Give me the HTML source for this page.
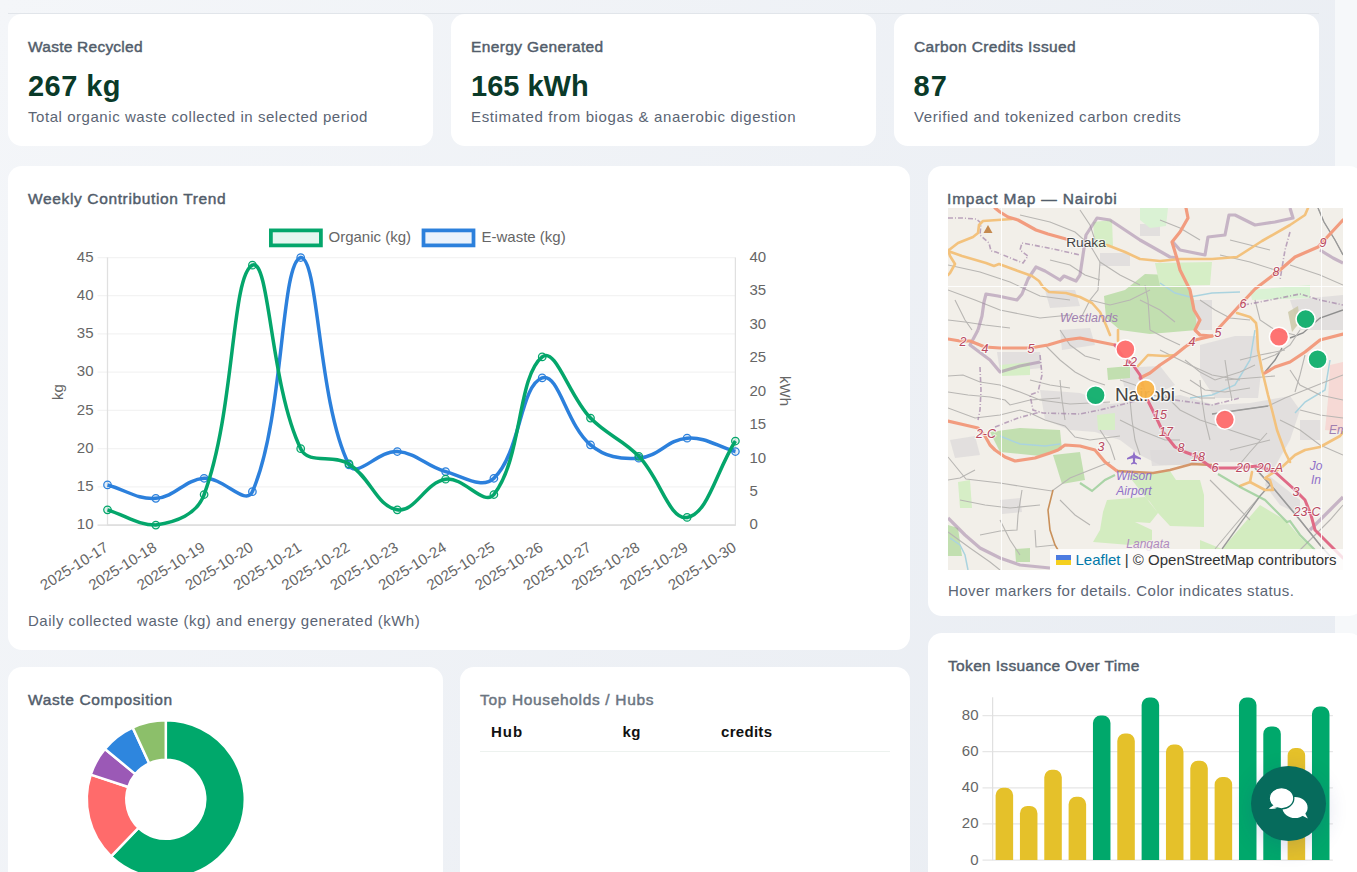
<!DOCTYPE html><html><head><meta charset="utf-8"><style>

html,body{margin:0;padding:0;}
html{background:#f6f8fa;}
body{width:1357px;height:872px;overflow:hidden;position:relative;font-family:"Liberation Sans",sans-serif;}
#bg{position:absolute;left:0;top:0;width:1335px;height:872px;background:linear-gradient(120deg,#f4f6f9 0%,#e8ecf2 100%);}
#hline{position:absolute;left:8px;top:13px;width:1311px;height:1px;background:#e1e5ea;}
.card{position:absolute;background:#fff;border-radius:14px;overflow:hidden;}
.t{position:absolute;left:20px;top:25px;font-size:15.5px;line-height:15px;font-weight:normal;-webkit-text-stroke-width:0.45px;color:#525d6b;white-space:nowrap;letter-spacing:0.1px;}
.big{position:absolute;left:20px;top:58px;font-size:29px;line-height:29px;font-weight:bold;color:#0a3a29;white-space:nowrap;}
.sub{position:absolute;left:20px;top:95px;font-size:15px;line-height:15px;color:#5b6574;white-space:nowrap;letter-spacing:0.6px;}
svg{font-family:"Liberation Sans",sans-serif;}
#fab{position:absolute;left:1251px;top:766px;width:75px;height:75px;border-radius:50%;background:#066b5c;box-shadow:0 6px 22px rgba(40,50,140,0.18);}

</style></head><body>

<div id="bg"></div>
<div id="hline"></div>
<div class="card" style="left:8px;top:14px;width:425px;height:132px;">
  <div class="t" style="letter-spacing:0.24px">Waste Recycled</div>
  <div class="big" style="letter-spacing:0.45px">267 kg</div>
  <div class="sub" style="letter-spacing:0.55px">Total organic waste collected in selected period</div>
</div>
<div class="card" style="left:451px;top:14px;width:425px;height:132px;">
  <div class="t" style="letter-spacing:0.37px">Energy Generated</div>
  <div class="big">165 kWh</div>
  <div class="sub" style="letter-spacing:0.64px">Estimated from biogas &amp; anaerobic digestion</div>
</div>
<div class="card" style="left:894px;top:14px;width:425px;height:132px;">
  <div class="t" style="letter-spacing:0.37px">Carbon Credits Issued</div>
  <div class="big" style="left:19.5px;letter-spacing:1.2px">87</div>
  <div class="sub" style="letter-spacing:0.58px">Verified and tokenized carbon credits</div>
</div>
<div class="card" id="trend" style="left:8px;top:166px;width:902px;height:484px;">
  <div class="t" style="letter-spacing:0.64px">Weekly Contribution Trend</div>
  <div class="sub" style="top:447px;letter-spacing:0.51px;">Daily collected waste (kg) and energy generated (kWh)</div>
</div>
<div class="card" id="map" style="left:928px;top:166px;width:435px;height:450px;">
  <div class="t" style="left:19px;letter-spacing:0.82px;">Impact Map — Nairobi</div>
  <div class="sub" style="top:417px;letter-spacing:0.46px;">Hover markers for details. Color indicates status.</div>
</div>
<div class="card" id="comp" style="left:8px;top:667px;width:435px;height:260px;">
  <div class="t" style="letter-spacing:0.64px">Waste Composition</div>
</div>
<div class="card" id="hubs" style="left:460px;top:667px;width:450px;height:260px;">
  <div class="t" style="color:#6b7581;letter-spacing:0.66px;">Top Households / Hubs</div>
</div>
<div class="card" id="token" style="left:928px;top:633px;width:435px;height:300px;">
  <div class="t" style="letter-spacing:0.34px">Token Issuance Over Time</div>
</div>

<svg width="1357" height="872" style="position:absolute;left:0;top:0">
<line x1="97.5" y1="525.10" x2="735.40" y2="525.10" stroke="#dcdcdc" stroke-width="1.25"/>
<text x="93.5" y="523.70" font-size="15" fill="#666" text-anchor="end" dominant-baseline="central">10</text>
<line x1="97.5" y1="486.87" x2="735.40" y2="486.87" stroke="#f3f3f3" stroke-width="1.25"/>
<text x="93.5" y="485.47" font-size="15" fill="#666" text-anchor="end" dominant-baseline="central">15</text>
<line x1="97.5" y1="448.64" x2="735.40" y2="448.64" stroke="#f3f3f3" stroke-width="1.25"/>
<text x="93.5" y="447.24" font-size="15" fill="#666" text-anchor="end" dominant-baseline="central">20</text>
<line x1="97.5" y1="410.41" x2="735.40" y2="410.41" stroke="#f3f3f3" stroke-width="1.25"/>
<text x="93.5" y="409.01" font-size="15" fill="#666" text-anchor="end" dominant-baseline="central">25</text>
<line x1="97.5" y1="372.19" x2="735.40" y2="372.19" stroke="#f3f3f3" stroke-width="1.25"/>
<text x="93.5" y="370.79" font-size="15" fill="#666" text-anchor="end" dominant-baseline="central">30</text>
<line x1="97.5" y1="333.96" x2="735.40" y2="333.96" stroke="#f3f3f3" stroke-width="1.25"/>
<text x="93.5" y="332.56" font-size="15" fill="#666" text-anchor="end" dominant-baseline="central">35</text>
<line x1="97.5" y1="295.73" x2="735.40" y2="295.73" stroke="#f3f3f3" stroke-width="1.25"/>
<text x="93.5" y="294.33" font-size="15" fill="#666" text-anchor="end" dominant-baseline="central">40</text>
<line x1="97.5" y1="257.50" x2="735.40" y2="257.50" stroke="#f3f3f3" stroke-width="1.25"/>
<text x="93.5" y="256.10" font-size="15" fill="#666" text-anchor="end" dominant-baseline="central">45</text>
<text x="749.5" y="523.90" font-size="15" fill="#666" dominant-baseline="central">0</text>
<text x="749.5" y="490.45" font-size="15" fill="#666" dominant-baseline="central">5</text>
<text x="749.5" y="457.00" font-size="15" fill="#666" dominant-baseline="central">10</text>
<text x="749.5" y="423.55" font-size="15" fill="#666" dominant-baseline="central">15</text>
<text x="749.5" y="390.10" font-size="15" fill="#666" dominant-baseline="central">20</text>
<text x="749.5" y="356.65" font-size="15" fill="#666" dominant-baseline="central">25</text>
<text x="749.5" y="323.20" font-size="15" fill="#666" dominant-baseline="central">30</text>
<text x="749.5" y="289.75" font-size="15" fill="#666" dominant-baseline="central">35</text>
<text x="749.5" y="256.30" font-size="15" fill="#666" dominant-baseline="central">40</text>
<line x1="107.50" y1="257.50" x2="107.50" y2="525.70" stroke="#e0e0e0" stroke-width="1.25"/>
<line x1="735.40" y1="257.50" x2="735.40" y2="525.70" stroke="#e0e0e0" stroke-width="1.25"/>
<line x1="107.50" y1="525.10" x2="735.40" y2="525.10" stroke="#dcdcdc" stroke-width="1.25"/>
<text transform="translate(63,392) rotate(-90)" font-size="15" fill="#666" text-anchor="middle">kg</text>
<text transform="translate(780,391) rotate(90)" font-size="15" fill="#666" text-anchor="middle">kWh</text>
<text transform="translate(106.50,545.50) rotate(-32)" font-size="15" fill="#666" text-anchor="end" dominant-baseline="central">2025-10-17</text>
<text transform="translate(154.80,545.50) rotate(-32)" font-size="15" fill="#666" text-anchor="end" dominant-baseline="central">2025-10-18</text>
<text transform="translate(203.10,545.50) rotate(-32)" font-size="15" fill="#666" text-anchor="end" dominant-baseline="central">2025-10-19</text>
<text transform="translate(251.40,545.50) rotate(-32)" font-size="15" fill="#666" text-anchor="end" dominant-baseline="central">2025-10-20</text>
<text transform="translate(299.70,545.50) rotate(-32)" font-size="15" fill="#666" text-anchor="end" dominant-baseline="central">2025-10-21</text>
<text transform="translate(348.00,545.50) rotate(-32)" font-size="15" fill="#666" text-anchor="end" dominant-baseline="central">2025-10-22</text>
<text transform="translate(396.30,545.50) rotate(-32)" font-size="15" fill="#666" text-anchor="end" dominant-baseline="central">2025-10-23</text>
<text transform="translate(444.60,545.50) rotate(-32)" font-size="15" fill="#666" text-anchor="end" dominant-baseline="central">2025-10-24</text>
<text transform="translate(492.90,545.50) rotate(-32)" font-size="15" fill="#666" text-anchor="end" dominant-baseline="central">2025-10-25</text>
<text transform="translate(541.20,545.50) rotate(-32)" font-size="15" fill="#666" text-anchor="end" dominant-baseline="central">2025-10-26</text>
<text transform="translate(589.50,545.50) rotate(-32)" font-size="15" fill="#666" text-anchor="end" dominant-baseline="central">2025-10-27</text>
<text transform="translate(637.80,545.50) rotate(-32)" font-size="15" fill="#666" text-anchor="end" dominant-baseline="central">2025-10-28</text>
<text transform="translate(686.10,545.50) rotate(-32)" font-size="15" fill="#666" text-anchor="end" dominant-baseline="central">2025-10-29</text>
<text transform="translate(734.40,545.50) rotate(-32)" font-size="15" fill="#666" text-anchor="end" dominant-baseline="central">2025-10-30</text>
<path d="M107.50,484.96 C126.82,490.31 136.89,499.65 155.80,498.34 C175.53,496.97 184.37,479.64 204.10,478.27 C223.01,476.96 245.70,506.95 252.40,491.65 C284.34,418.65 280.26,263.16 300.70,257.50 C318.90,257.50 317.72,402.07 349.00,464.89 C356.36,479.68 378.39,450.20 397.30,451.51 C417.03,452.88 425.60,466.04 445.60,471.58 C464.24,476.74 482.13,489.68 493.90,478.27 C520.77,452.21 520.00,385.61 542.20,377.92 C558.64,372.23 566.46,424.84 590.50,444.82 C605.10,456.95 619.89,459.51 638.80,458.20 C658.53,456.83 667.37,439.50 687.10,438.13 C706.01,436.82 716.08,446.16 735.40,451.51" fill="none" stroke="#2c80dc" stroke-width="3.5" stroke-linejoin="round"/>
<circle cx="107.50" cy="484.96" r="3.75" fill="rgba(44,128,220,0.12)" stroke="#2c80dc" stroke-width="1.25"/>
<circle cx="155.80" cy="498.34" r="3.75" fill="rgba(44,128,220,0.12)" stroke="#2c80dc" stroke-width="1.25"/>
<circle cx="204.10" cy="478.27" r="3.75" fill="rgba(44,128,220,0.12)" stroke="#2c80dc" stroke-width="1.25"/>
<circle cx="252.40" cy="491.65" r="3.75" fill="rgba(44,128,220,0.12)" stroke="#2c80dc" stroke-width="1.25"/>
<circle cx="300.70" cy="257.50" r="3.75" fill="rgba(44,128,220,0.12)" stroke="#2c80dc" stroke-width="1.25"/>
<circle cx="349.00" cy="464.89" r="3.75" fill="rgba(44,128,220,0.12)" stroke="#2c80dc" stroke-width="1.25"/>
<circle cx="397.30" cy="451.51" r="3.75" fill="rgba(44,128,220,0.12)" stroke="#2c80dc" stroke-width="1.25"/>
<circle cx="445.60" cy="471.58" r="3.75" fill="rgba(44,128,220,0.12)" stroke="#2c80dc" stroke-width="1.25"/>
<circle cx="493.90" cy="478.27" r="3.75" fill="rgba(44,128,220,0.12)" stroke="#2c80dc" stroke-width="1.25"/>
<circle cx="542.20" cy="377.92" r="3.75" fill="rgba(44,128,220,0.12)" stroke="#2c80dc" stroke-width="1.25"/>
<circle cx="590.50" cy="444.82" r="3.75" fill="rgba(44,128,220,0.12)" stroke="#2c80dc" stroke-width="1.25"/>
<circle cx="638.80" cy="458.20" r="3.75" fill="rgba(44,128,220,0.12)" stroke="#2c80dc" stroke-width="1.25"/>
<circle cx="687.10" cy="438.13" r="3.75" fill="rgba(44,128,220,0.12)" stroke="#2c80dc" stroke-width="1.25"/>
<circle cx="735.40" cy="451.51" r="3.75" fill="rgba(44,128,220,0.12)" stroke="#2c80dc" stroke-width="1.25"/>
<path d="M107.50,509.81 C126.82,515.93 137.65,525.10 155.80,525.10 C176.29,521.86 196.52,514.90 204.10,494.52 C235.16,410.92 231.05,275.29 252.40,265.15 C269.69,257.50 270.20,385.88 300.70,448.64 C308.84,465.40 332.31,453.36 349.00,463.93 C370.95,477.83 376.51,506.52 397.30,509.81 C415.15,512.63 425.11,482.47 445.60,479.23 C463.75,476.35 483.94,507.13 493.90,494.52 C522.58,458.20 517.02,376.83 542.20,356.89 C555.66,346.24 568.92,395.85 590.50,418.06 C607.56,435.61 621.74,438.74 638.80,456.29 C660.38,478.50 669.21,520.29 687.10,517.45 C707.85,514.17 716.08,471.58 735.40,441.00" fill="none" stroke="#04a66b" stroke-width="3.5" stroke-linejoin="round"/>
<circle cx="107.50" cy="509.81" r="3.75" fill="rgba(4,166,107,0.12)" stroke="#04a66b" stroke-width="1.25"/>
<circle cx="155.80" cy="525.10" r="3.75" fill="rgba(4,166,107,0.12)" stroke="#04a66b" stroke-width="1.25"/>
<circle cx="204.10" cy="494.52" r="3.75" fill="rgba(4,166,107,0.12)" stroke="#04a66b" stroke-width="1.25"/>
<circle cx="252.40" cy="265.15" r="3.75" fill="rgba(4,166,107,0.12)" stroke="#04a66b" stroke-width="1.25"/>
<circle cx="300.70" cy="448.64" r="3.75" fill="rgba(4,166,107,0.12)" stroke="#04a66b" stroke-width="1.25"/>
<circle cx="349.00" cy="463.93" r="3.75" fill="rgba(4,166,107,0.12)" stroke="#04a66b" stroke-width="1.25"/>
<circle cx="397.30" cy="509.81" r="3.75" fill="rgba(4,166,107,0.12)" stroke="#04a66b" stroke-width="1.25"/>
<circle cx="445.60" cy="479.23" r="3.75" fill="rgba(4,166,107,0.12)" stroke="#04a66b" stroke-width="1.25"/>
<circle cx="493.90" cy="494.52" r="3.75" fill="rgba(4,166,107,0.12)" stroke="#04a66b" stroke-width="1.25"/>
<circle cx="542.20" cy="356.89" r="3.75" fill="rgba(4,166,107,0.12)" stroke="#04a66b" stroke-width="1.25"/>
<circle cx="590.50" cy="418.06" r="3.75" fill="rgba(4,166,107,0.12)" stroke="#04a66b" stroke-width="1.25"/>
<circle cx="638.80" cy="456.29" r="3.75" fill="rgba(4,166,107,0.12)" stroke="#04a66b" stroke-width="1.25"/>
<circle cx="687.10" cy="517.45" r="3.75" fill="rgba(4,166,107,0.12)" stroke="#04a66b" stroke-width="1.25"/>
<circle cx="735.40" cy="441.00" r="3.75" fill="rgba(4,166,107,0.12)" stroke="#04a66b" stroke-width="1.25"/>
<rect x="270.9" y="230.4" width="50" height="15" fill="#e6f6f0" stroke="#04a66b" stroke-width="3.75"/>
<text x="328.5" y="236.5" font-size="15" fill="#666" dominant-baseline="central">Organic (kg)</text>
<rect x="423.5" y="230.4" width="50" height="15" fill="#eaf2fc" stroke="#2c80dc" stroke-width="3.75"/>
<text x="481.5" y="236.5" font-size="15" fill="#666" dominant-baseline="central">E-waste (kg)</text>
</svg>
<svg width="1357" height="872" style="position:absolute;left:0;top:0">
<path d="M165.80,720.30 A79.00,79.00 0 1 1 111.12,856.32 L138.46,827.81 A39.50,39.50 0 1 0 165.80,759.80 Z" fill="#00a86b" stroke="#fff" stroke-width="2.5" stroke-linejoin="round"/>
<path d="M111.12,856.32 A79.00,79.00 0 0 1 90.75,774.63 L128.28,786.96 A39.50,39.50 0 0 0 138.46,827.81 Z" fill="#ff6b6b" stroke="#fff" stroke-width="2.5" stroke-linejoin="round"/>
<path d="M90.75,774.63 A79.00,79.00 0 0 1 104.93,748.94 L135.36,774.12 A39.50,39.50 0 0 0 128.28,786.96 Z" fill="#9b59b6" stroke="#fff" stroke-width="2.5" stroke-linejoin="round"/>
<path d="M104.93,748.94 A79.00,79.00 0 0 1 132.66,727.59 L149.23,763.44 A39.50,39.50 0 0 0 135.36,774.12 Z" fill="#2e86de" stroke="#fff" stroke-width="2.5" stroke-linejoin="round"/>
<path d="M132.66,727.59 A79.00,79.00 0 0 1 165.80,720.30 L165.80,759.80 A39.50,39.50 0 0 0 149.23,763.44 Z" fill="#8cbf6a" stroke="#fff" stroke-width="2.5" stroke-linejoin="round"/>
</svg>
<svg width="1357" height="872" style="position:absolute;left:0;top:0">
<line x1="982.5" y1="860.10" x2="1332.90" y2="860.10" stroke="#e6e6e6" stroke-width="1.25"/>
<text x="978.5" y="859.10" font-size="15" fill="#666" text-anchor="end" dominant-baseline="central">0</text>
<line x1="982.5" y1="823.96" x2="1332.90" y2="823.96" stroke="#e6e6e6" stroke-width="1.25"/>
<text x="978.5" y="822.96" font-size="15" fill="#666" text-anchor="end" dominant-baseline="central">20</text>
<line x1="982.5" y1="787.82" x2="1332.90" y2="787.82" stroke="#e6e6e6" stroke-width="1.25"/>
<text x="978.5" y="786.82" font-size="15" fill="#666" text-anchor="end" dominant-baseline="central">40</text>
<line x1="982.5" y1="751.68" x2="1332.90" y2="751.68" stroke="#e6e6e6" stroke-width="1.25"/>
<text x="978.5" y="750.68" font-size="15" fill="#666" text-anchor="end" dominant-baseline="central">60</text>
<line x1="982.5" y1="715.54" x2="1332.90" y2="715.54" stroke="#e6e6e6" stroke-width="1.25"/>
<text x="978.5" y="714.54" font-size="15" fill="#666" text-anchor="end" dominant-baseline="central">80</text>
<line x1="992.60" y1="697.3" x2="992.60" y2="860.10" stroke="#e0e0e0" stroke-width="1.25"/>
<path d="M995.61,860.10 L995.61,795.32 A7.50,7.50 0 0 1 1003.11,787.82 L1005.63,787.82 A7.50,7.50 0 0 1 1013.13,795.32 L1013.13,860.10 Z" fill="#e5c12a"/>
<path d="M1019.94,860.10 L1019.94,813.39 A7.50,7.50 0 0 1 1027.44,805.89 L1029.96,805.89 A7.50,7.50 0 0 1 1037.46,813.39 L1037.46,860.10 Z" fill="#e5c12a"/>
<path d="M1044.28,860.10 L1044.28,777.25 A7.50,7.50 0 0 1 1051.78,769.75 L1054.30,769.75 A7.50,7.50 0 0 1 1061.80,777.25 L1061.80,860.10 Z" fill="#e5c12a"/>
<path d="M1068.61,860.10 L1068.61,804.36 A7.50,7.50 0 0 1 1076.11,796.86 L1078.64,796.86 A7.50,7.50 0 0 1 1086.14,804.36 L1086.14,860.10 Z" fill="#e5c12a"/>
<path d="M1092.95,860.10 L1092.95,723.04 A7.50,7.50 0 0 1 1100.45,715.54 L1102.97,715.54 A7.50,7.50 0 0 1 1110.47,723.04 L1110.47,860.10 Z" fill="#00a86b"/>
<path d="M1117.29,860.10 L1117.29,741.11 A7.50,7.50 0 0 1 1124.79,733.61 L1127.31,733.61 A7.50,7.50 0 0 1 1134.81,741.11 L1134.81,860.10 Z" fill="#e5c12a"/>
<path d="M1141.62,860.10 L1141.62,704.97 A7.50,7.50 0 0 1 1149.12,697.47 L1151.64,697.47 A7.50,7.50 0 0 1 1159.14,704.97 L1159.14,860.10 Z" fill="#00a86b"/>
<path d="M1165.96,860.10 L1165.96,751.95 A7.50,7.50 0 0 1 1173.46,744.45 L1175.98,744.45 A7.50,7.50 0 0 1 1183.48,751.95 L1183.48,860.10 Z" fill="#e5c12a"/>
<path d="M1190.29,860.10 L1190.29,768.22 A7.50,7.50 0 0 1 1197.79,760.72 L1200.31,760.72 A7.50,7.50 0 0 1 1207.81,768.22 L1207.81,860.10 Z" fill="#e5c12a"/>
<path d="M1214.63,860.10 L1214.63,784.48 A7.50,7.50 0 0 1 1222.13,776.98 L1224.65,776.98 A7.50,7.50 0 0 1 1232.15,784.48 L1232.15,860.10 Z" fill="#e5c12a"/>
<path d="M1238.96,860.10 L1238.96,704.97 A7.50,7.50 0 0 1 1246.46,697.47 L1248.99,697.47 A7.50,7.50 0 0 1 1256.49,704.97 L1256.49,860.10 Z" fill="#00a86b"/>
<path d="M1263.30,860.10 L1263.30,733.88 A7.50,7.50 0 0 1 1270.80,726.38 L1273.32,726.38 A7.50,7.50 0 0 1 1280.82,733.88 L1280.82,860.10 Z" fill="#00a86b"/>
<path d="M1287.64,860.10 L1287.64,755.57 A7.50,7.50 0 0 1 1295.14,748.07 L1297.66,748.07 A7.50,7.50 0 0 1 1305.16,755.57 L1305.16,860.10 Z" fill="#e5c12a"/>
<path d="M1311.97,860.10 L1311.97,714.00 A7.50,7.50 0 0 1 1319.47,706.50 L1321.99,706.50 A7.50,7.50 0 0 1 1329.49,714.00 L1329.49,860.10 Z" fill="#00a86b"/>
</svg>
<svg width="395" height="362" viewBox="948 208 395 362" style="position:absolute;left:948px;top:208px">
<rect x="948" y="208" width="395" height="362" fill="#f2efe9"/>
<polygon points="1040,390 1080,393 1110,404 1150,400 1180,395 1215,405 1250,403 1290,396 1300,410 1290,440 1270,475 1250,462 1215,462 1190,465 1160,465 1140,455 1120,440 1095,432 1070,430 1045,420" fill="#dcdada" opacity="0.75"/>
<polygon points="997,352 1040,352 1042,368 1000,372" fill="#dcdada" opacity="0.75"/>
<polygon points="1100,253 1130,253 1130,266 1100,266" fill="#dcdada" opacity="0.75"/>
<polygon points="1140,224 1160,224 1160,236 1140,236" fill="#dcdada" opacity="0.75"/>
<polygon points="1045,290 1075,290 1080,306 1050,308" fill="#dcdada" opacity="0.75"/>
<polygon points="1290,300 1343,295 1343,330 1300,330" fill="#dcdada" opacity="0.75"/>
<polygon points="1268,475 1300,500 1300,515 1280,505 1265,485" fill="#dcdada" opacity="0.75"/>
<polygon points="1300,420 1320,420 1320,440 1300,440" fill="#dcdada" opacity="0.75"/>
<polygon points="1150,450 1200,450 1200,464 1152,466" fill="#dcdada" opacity="0.75"/>
<polygon points="1180,300 1212,300 1212,330 1180,330" fill="#dcdada" opacity="0.75"/>
<polygon points="1200,345 1235,336 1257,336 1262,365 1258,398 1215,398 1200,375" fill="#dcdada" opacity="0.75"/>
<polygon points="1120,368 1160,366 1175,385 1160,392 1125,390" fill="#dcdada" opacity="0.75"/>
<polygon points="1060,330 1090,328 1095,345 1062,350" fill="#dcdada" opacity="0.75"/>
<polygon points="1125,300 1150,300 1150,318 1128,318" fill="#dcdada" opacity="0.75"/>
<polygon points="950,440 975,436 980,455 955,458" fill="#dcdada" opacity="0.75"/>
<polygon points="1000,500 1020,498 1022,512 1002,514" fill="#dcdada" opacity="0.75"/>
<polygon points="1288,312 1298,306 1300,322 1292,332" fill="#c9c6a4" opacity="0.8"/>
<path d="M1290,338 L1303,333 L1320,318 L1343,310" fill="none" stroke="#8e8e8e" stroke-width="1.4"/>
<path d="M1282,348 L1275,360 L1265,372" fill="none" stroke="#8e8e8e" stroke-width="1.4"/>
<polygon points="1330,365 1343,362 1343,432 1325,430 1328,400" fill="#f6d3cf" opacity="0.8"/>
<polygon points="1104,296 1125,290 1145,274 1170,275 1188,282 1194,300 1197,330 1150,334 1120,330 1106,318" fill="#c2dfb0"/>
<polygon points="1140,208 1168,208 1166,226 1150,228 1140,220" fill="#daf2d4"/>
<polygon points="1093,222 1112,220 1113,247 1095,248" fill="#d6eec6"/>
<polygon points="1155,263 1212,262 1210,285 1160,286" fill="#d6eec6"/>
<polygon points="1250,290 1310,285 1310,298 1252,300" fill="#daf2d4"/>
<polygon points="1000,365 1030,362 1030,375 1002,376" fill="#d6eec6"/>
<polygon points="990,432 1020,428 1060,430 1062,450 1040,456 1000,452" fill="#c2dfb0"/>
<polygon points="1107,368 1130,366 1130,378 1108,380" fill="#c2dfb0"/>
<polygon points="1097,415 1115,413 1115,430 1098,430" fill="#d6eec6"/>
<polygon points="1053,455 1080,452 1085,480 1062,484" fill="#c2dfb0"/>
<polygon points="958,482 970,480 972,508 960,508" fill="#d6eec6"/>
<polygon points="948,525 958,528 962,556 948,556" fill="#c2dfb0"/>
<polygon points="1015,549 1030,548 1030,562 1016,562" fill="#c2dfb0"/>
<polygon points="1128,475 1170,471 1176,480 1200,480 1204,495 1204,527 1170,526 1158,513 1150,502 1145,497 1107,500 1103,512 1100,530 1093,542 1130,545 1152,540 1152,530 1135,522 1150,523 1158,513" fill="#d3ecc0"/>
<polygon points="1222,549 1260,505 1280,517 1288,523 1300,537 1313,549" fill="#d3ecc0"/>
<polygon points="1200,540 1222,549 1200,549" fill="#d3ecc0"/>
<path d="M1160,283 L1175,293 L1190,297 L1212,293 L1240,292" fill="none" stroke="#aad3df" stroke-width="1.5"/>
<path d="M1255,330 L1250,360 L1235,385 L1212,395 L1190,398" fill="none" stroke="#aad3df" stroke-width="1.5"/>
<path d="M1330,360 L1325,390 L1305,402 L1295,413" fill="none" stroke="#aad3df" stroke-width="1.5"/>
<path d="M1000,436 L1020,444 L1045,446 L1060,444" fill="none" stroke="#aad3df" stroke-width="1.5"/>
<path d="M950,538 L960,545 L965,555 L968,570" fill="none" stroke="#aad3df" stroke-width="1.5"/>
<path d="M948,376 L963,375 L980,382 L1000,385 L1020,392 L1040,400 L1070,404 L1110,402" fill="none" stroke="#b8b6b3" stroke-width="1.1"/>
<path d="M948,392 L968,395 L990,397 L1005,400 L1010,405 L1030,400 L1060,398" fill="none" stroke="#b8b6b3" stroke-width="1.1"/>
<path d="M948,408 L975,418 L1000,415 L1020,410 L1030,413 L1045,420 L1065,426 L1075,437 L1090,440 L1120,436" fill="none" stroke="#b8b6b3" stroke-width="1.1"/>
<path d="M948,457 L966,479 L1000,483 L1025,487 L1052,491 L1070,478 L1090,470 L1110,462" fill="none" stroke="#b8b6b3" stroke-width="1.1"/>
<path d="M948,532 L970,548 L990,562 L1000,570" fill="none" stroke="#b8b6b3" stroke-width="1.1"/>
<path d="M980,535 L1000,531 L1017,530 L1018,515 L1022,490" fill="none" stroke="#b8b6b3" stroke-width="1.1"/>
<path d="M1035,530 L1036,547 L1055,545" fill="none" stroke="#b8b6b3" stroke-width="1.1"/>
<path d="M948,265 L980,272 L1010,282 L1040,296 L1070,300" fill="none" stroke="#b8b6b3" stroke-width="1.1"/>
<path d="M948,290 L975,300 L1000,310 L1040,318 L1070,315" fill="none" stroke="#b8b6b3" stroke-width="1.1"/>
<path d="M1020,215 L1050,222 L1075,232 L1090,245 L1100,262 L1120,275 L1140,285" fill="none" stroke="#b8b6b3" stroke-width="1.1"/>
<path d="M1100,262 L1098,290 L1090,300 L1080,320" fill="none" stroke="#b8b6b3" stroke-width="1.1"/>
<path d="M1150,330 L1148,300 L1145,285" fill="none" stroke="#b8b6b3" stroke-width="1.1"/>
<path d="M1160,350 L1190,365 L1212,375 L1240,380" fill="none" stroke="#b8b6b3" stroke-width="1.1"/>
<path d="M1212,414 L1240,410 L1268,406 L1285,398 L1300,392 L1330,380 L1343,375" fill="none" stroke="#b8b6b3" stroke-width="1.1"/>
<path d="M1267,433 L1250,452 L1235,470" fill="none" stroke="#b8b6b3" stroke-width="1.1"/>
<path d="M1215,549 L1235,525 L1260,496" fill="none" stroke="#b8b6b3" stroke-width="1.1"/>
<path d="M1255,468 L1275,490 L1300,520 L1320,545 L1325,550" fill="none" stroke="#b8b6b3" stroke-width="1.1"/>
<path d="M1318,208 L1324,222 L1335,240 L1343,255" fill="none" stroke="#b8b6b3" stroke-width="1.1"/>
<path d="M1300,330 L1290,345 L1275,355 L1262,360" fill="none" stroke="#b8b6b3" stroke-width="1.1"/>
<path d="M1220,255 L1250,262 L1275,270" fill="none" stroke="#b8b6b3" stroke-width="1.1"/>
<path d="M1290,265 L1320,275 L1343,285" fill="none" stroke="#b8b6b3" stroke-width="1.1"/>
<path d="M1120,420 L1140,430 L1165,440 L1180,440" fill="none" stroke="#b8b6b3" stroke-width="1.1"/>
<path d="M1180,390 L1200,398 L1215,398" fill="none" stroke="#b8b6b3" stroke-width="1.1"/>
<path d="M948,480 L960,478 L975,470" fill="none" stroke="#b8b6b3" stroke-width="1.1"/>
<path d="M960,500 L985,505 L1010,508 L1040,505" fill="none" stroke="#b8b6b3" stroke-width="1.1"/>
<path d="M1000,520 L1010,540 L1020,555" fill="none" stroke="#b8b6b3" stroke-width="1.1"/>
<path d="M1060,500 L1075,515 L1090,525" fill="none" stroke="#b8b6b3" stroke-width="1.1"/>
<path d="M1210,480 L1230,500 L1250,520" fill="none" stroke="#b8b6b3" stroke-width="1.1"/>
<path d="M1290,560 L1310,540 L1330,520 L1343,505" fill="none" stroke="#b8b6b3" stroke-width="1.1"/>
<path d="M1160,220 L1180,228 L1200,240" fill="none" stroke="#b8b6b3" stroke-width="1.1"/>
<path d="M1230,240 L1250,245 L1270,250" fill="none" stroke="#b8b6b3" stroke-width="1.1"/>
<path d="M1080,210 L1090,225 L1095,240" fill="none" stroke="#b8b6b3" stroke-width="1.1"/>
<path d="M948,320 L965,322 L985,325 L1010,328" fill="none" stroke="#b8b6b3" stroke-width="1.1"/>
<path d="M1030,380 L1050,385 L1070,388" fill="none" stroke="#b8b6b3" stroke-width="1.1"/>
<path d="M1240,360 L1260,355 L1285,350" fill="none" stroke="#b8b6b3" stroke-width="1.1"/>
<path d="M1225,380 L1250,378 L1275,376" fill="none" stroke="#b8b6b3" stroke-width="1.1"/>
<path d="M1300,410 L1320,415 L1343,418" fill="none" stroke="#b8b6b3" stroke-width="1.1"/>
<path d="M1305,355 L1300,375 L1295,392" fill="none" stroke="#b8b6b3" stroke-width="1.1"/>
<path d="M1140,300 L1160,310 L1175,322" fill="none" stroke="#b8b6b3" stroke-width="1.1"/>
<path d="M1045,345 L1060,360 L1075,372 L1090,380 L1105,385" fill="none" stroke="#b8b6b3" stroke-width="1.1"/>
<path d="M1060,330 L1070,345 L1085,356 L1100,360" fill="none" stroke="#b8b6b3" stroke-width="1.1"/>
<path d="M1150,330 L1165,338 L1180,345" fill="none" stroke="#b8b6b3" stroke-width="1.1"/>
<path d="M1185,360 L1200,372 L1215,380 L1240,372 L1255,365" fill="none" stroke="#b8b6b3" stroke-width="1.1"/>
<path d="M1190,380 L1205,390 L1225,392 L1250,388" fill="none" stroke="#b8b6b3" stroke-width="1.1"/>
<path d="M1165,395 L1180,410 L1200,420 L1230,430 L1260,440" fill="none" stroke="#b8b6b3" stroke-width="1.1"/>
<path d="M1200,380 L1202,400 L1205,420 L1210,440" fill="none" stroke="#b8b6b3" stroke-width="1.1"/>
<path d="M1225,360 L1228,380 L1232,400" fill="none" stroke="#b8b6b3" stroke-width="1.1"/>
<path d="M1100,430 L1110,445 L1115,460" fill="none" stroke="#b8b6b3" stroke-width="1.1"/>
<path d="M1060,380 L1062,400 L1065,420" fill="none" stroke="#b8b6b3" stroke-width="1.1"/>
<path d="M1130,400 L1132,420 L1135,440 L1140,455" fill="none" stroke="#b8b6b3" stroke-width="1.1"/>
<path d="M1280,420 L1300,430 L1320,445 L1343,455" fill="none" stroke="#b8b6b3" stroke-width="1.1"/>
<path d="M1290,370 L1300,385 L1320,395 L1343,400" fill="none" stroke="#b8b6b3" stroke-width="1.1"/>
<path d="M1230,450 L1250,445 L1270,440" fill="none" stroke="#b8b6b3" stroke-width="1.1"/>
<path d="M1090,300 L1110,305 L1130,300 L1150,290" fill="none" stroke="#b8b6b3" stroke-width="1.1"/>
<path d="M1200,300 L1215,310 L1230,318 L1250,320" fill="none" stroke="#b8b6b3" stroke-width="1.1"/>
<path d="M1255,300 L1260,320 L1275,330 L1295,335" fill="none" stroke="#b8b6b3" stroke-width="1.1"/>
<path d="M1050,260 L1070,265 L1085,275 L1100,280" fill="none" stroke="#b8b6b3" stroke-width="1.1"/>
<path d="M955,300 L965,320 L972,330" fill="none" stroke="#b8b6b3" stroke-width="1.1"/>
<path d="M1120,380 L1135,385 L1150,395 L1170,398" fill="none" stroke="#b8b6b3" stroke-width="1.1"/>
<path d="M1212,414 L1240,410 L1268,406" fill="none" stroke="#999" stroke-width="1.6"/>
<path d="M1255,468 L1275,490 L1300,520 L1320,545 L1330,556" fill="none" stroke="#999" stroke-width="1.6"/>
<path d="M1222,549 L1260,496 L1270,485" fill="none" stroke="#999" stroke-width="1.3"/>
<path d="M1318,208 L1324,222 L1335,240 L1343,255" fill="none" stroke="#999" stroke-width="1.3"/>
<path d="M978,330 L970,345 L990,360 L1000,372 L1020,366 L1040,362" fill="none" stroke="#a383a8" stroke-width="3.2" stroke-opacity="0.55" stroke-linejoin="round"/>
<path d="M978,330 L982,316 L984,302 L986,294 L998,296 L1017,300 L1022,294 L1028,279 L1036,267 L1045,271 L1060,280 L1064,276 L1076,281 L1080,275 L1086,235 L1097,218 L1110,220 L1140,240 L1170,257 L1178,258" fill="none" stroke="#a383a8" stroke-width="3.2" stroke-opacity="0.55" stroke-linejoin="round"/>
<path d="M1172,241 L1180,250 L1205,255 L1208,237 L1225,235 L1229,215 L1235,215 L1255,225 L1275,222 L1293,218 L1290,208" fill="none" stroke="#a383a8" stroke-width="3.2" stroke-opacity="0.55" stroke-linejoin="round"/>
<path d="M1320,250 L1333,258 L1343,263" fill="none" stroke="#a383a8" stroke-width="3.2" stroke-opacity="0.55" stroke-linejoin="round"/>
<path d="M948,518 L965,535 L980,548 L1000,558 L1020,565 L1050,568" fill="none" stroke="#a383a8" stroke-width="3.2" stroke-opacity="0.55" stroke-linejoin="round"/>
<path d="M1310,530 L1330,510 L1343,497" fill="none" stroke="#a383a8" stroke-width="3.2" stroke-opacity="0.55" stroke-linejoin="round"/>
<path d="M948,218 L962,218 L976,219 L981,223 L980,235 L989,243 L991,251 L996,252 L1008,257 L1023,263 L1028,256 L1020,250 L1022,243 L1033,245 L1058,250 L1080,255" fill="none" stroke="#a383a8" stroke-width="1.6" stroke-opacity="0.7" stroke-dasharray="5,2,1,2"/>
<path d="M1040,355 L1042,375 L1038,392 L1030,395 L1033,410 L1043,413 L1080,414 L1100,410 L1120,405 L1140,400" fill="none" stroke="#a383a8" stroke-width="1.6" stroke-opacity="0.7" stroke-dasharray="5,2,1,2"/>
<path d="M980,367 L981,390 L980,410 L978,420" fill="none" stroke="#a383a8" stroke-width="1.6" stroke-opacity="0.7" stroke-dasharray="5,2,1,2"/>
<path d="M995,427 L1018,418 L1040,412" fill="none" stroke="#a383a8" stroke-width="1.6" stroke-opacity="0.7" stroke-dasharray="5,2,1,2"/>
<path d="M1244,305 L1270,300 L1300,294 L1320,300 L1343,305" fill="none" stroke="#a383a8" stroke-width="1.6" stroke-opacity="0.7" stroke-dasharray="5,2,1,2"/>
<path d="M1175,400 L1212,405 L1240,398" fill="none" stroke="#a383a8" stroke-width="1.6" stroke-opacity="0.7" stroke-dasharray="5,2,1,2"/>
<path d="M1290,232 L1285,250 L1282,268 L1280,280" fill="none" stroke="#a383a8" stroke-width="1.6" stroke-opacity="0.7" stroke-dasharray="5,2,1,2"/>
<path d="M1012,219 L983,221 L979,225 L978,233 L973,237 L958,243 L949,250 L948,250" fill="none" stroke="#f3c27d" stroke-width="2.6" stroke-linejoin="round" stroke-linecap="round"/>
<path d="M948,250 L950,256 L955,264 L950,273 L948,275" fill="none" stroke="#f3c27d" stroke-width="2.6" stroke-linejoin="round" stroke-linecap="round"/>
<path d="M948,251 L962,256 L986,263 L994,266 L999,264 L1018,271 L1032,276 L1039,281 L1043,287 L1049,292 L1066,293 L1080,297 L1092,303 L1100,312 L1106,325 L1110,335" fill="none" stroke="#f3c27d" stroke-width="2.6" stroke-linejoin="round" stroke-linecap="round"/>
<path d="M1107,245 L1125,252 L1140,259 L1160,261 L1180,259 L1212,259 L1237,257 L1262,241 L1290,225 L1305,215 L1308,208" fill="none" stroke="#f3c27d" stroke-width="2.6" stroke-linejoin="round" stroke-linecap="round"/>
<path d="M1118,330 L1118,341" fill="none" stroke="#f3c27d" stroke-width="2.6" stroke-linejoin="round" stroke-linecap="round"/>
<path d="M1138,366 L1148,355 L1165,356 L1175,355" fill="none" stroke="#f3c27d" stroke-width="2.6" stroke-linejoin="round" stroke-linecap="round"/>
<path d="M1237,313 L1250,317 L1256,323 L1257,330 L1258,350 L1262,370 L1268,395 L1272,410 L1277,430 L1285,452 L1290,462" fill="none" stroke="#f3c27d" stroke-width="2.6" stroke-linejoin="round" stroke-linecap="round"/>
<path d="M1240,486 L1250,482 L1252,472" fill="none" stroke="#f3c27d" stroke-width="2.6" stroke-linejoin="round" stroke-linecap="round"/>
<path d="M1250,482 L1265,490 L1273,490 L1270,480 L1265,478 L1282,467 L1295,455 L1305,450 L1320,447 L1340,436 L1343,432" fill="none" stroke="#f3c27d" stroke-width="2.6" stroke-linejoin="round" stroke-linecap="round"/>
<path d="M1053,490 L1048,510 L1050,530 L1055,545 L1058,550" fill="none" stroke="#c9905a" stroke-width="1.6"/>
<path d="M1080,483 L1092,491 L1105,480 L1115,475" fill="none" stroke="#8cc98a" stroke-width="2.2" stroke-opacity="0.7"/>
<path d="M1218,474 L1240,487 L1265,500 L1280,515 L1287,522 L1290,521 L1300,535 L1315,550" fill="none" stroke="#8cc98a" stroke-width="2.2" stroke-opacity="0.7"/>
<path d="M995,208 L1000,212 L1008,217 L1018,220 L1036,230 L1048,234 L1066,239" fill="none" stroke="#f29c7f" stroke-width="3.2" stroke-linejoin="round" stroke-linecap="round"/>
<path d="M948,339 L960,341 L970,341 L985,347 L1000,348 L1030,348 L1048,345 L1065,340 L1080,338 L1100,342 L1115,345" fill="none" stroke="#f29c7f" stroke-width="3.2" stroke-linejoin="round" stroke-linecap="round"/>
<path d="M948,421 L965,425 L978,428 L985,436 L990,445 L995,450 L1005,457 L1015,461 L1035,458 L1050,453 L1058,450 L1065,445 L1080,446 L1095,450 L1105,462 L1117,471" fill="none" stroke="#f29c7f" stroke-width="3.2" stroke-linejoin="round" stroke-linecap="round"/>
<path d="M1217,330 L1240,305 L1255,289 L1280,270 L1295,257 L1318,247 L1343,220" fill="none" stroke="#f29c7f" stroke-width="3.2" stroke-linejoin="round" stroke-linecap="round"/>
<path d="M1212,336 L1195,340 L1185,347 L1175,355 L1160,365 L1150,373 L1140,378" fill="none" stroke="#f29c7f" stroke-width="3.2" stroke-linejoin="round" stroke-linecap="round"/>
<path d="M1186,208 L1188,218 L1180,232 L1172,242 L1178,262 L1180,270 L1190,290 L1194,310 L1200,320 L1195,330 L1200,335 L1212,336" fill="none" stroke="#f29c7f" stroke-width="3.2" stroke-linejoin="round" stroke-linecap="round"/>
<path d="M1343,334 L1320,340 L1305,352 L1290,362 L1275,367 L1265,373" fill="none" stroke="#f29c7f" stroke-width="3.2" stroke-linejoin="round" stroke-linecap="round"/>
<path d="M1117,471 L1153,473 L1170,470 L1192,464 L1212,465" fill="none" stroke="#d4966a" stroke-width="2.4" stroke-linejoin="round"/>
<path d="M1115,345 L1123,357 L1133,365 L1140,375 L1145,395 L1150,405 L1155,415 L1163,432 L1175,447 L1185,452 L1196,456 L1212,468 L1235,468 L1258,466 L1275,472 L1295,490 L1305,500 L1311,515 L1315,530 L1335,550 L1343,558" fill="none" stroke="#e06a86" stroke-width="3" stroke-linejoin="round" stroke-linecap="round"/>
<line x1="1001.5" y1="208" x2="1001.5" y2="570" stroke="#fff" stroke-width="1" opacity="0.9"/>
<line x1="1321.5" y1="208" x2="1321.5" y2="570" stroke="#fff" stroke-width="1" opacity="0.9"/>
<line x1="948" y1="286.5" x2="1343" y2="286.5" stroke="#fff" stroke-width="1" opacity="0.9"/>
<text x="963" y="346" font-size="12.5" font-weight="normal" style="font-style:italic;" fill="#b9485f" text-anchor="middle" stroke="#fff" stroke-width="2" stroke-opacity="0.7" paint-order="stroke">2</text>
<text x="985" y="353" font-size="12.5" font-weight="normal" style="font-style:italic;" fill="#b9485f" text-anchor="middle" stroke="#fff" stroke-width="2" stroke-opacity="0.7" paint-order="stroke">4</text>
<text x="1031" y="353" font-size="12.5" font-weight="normal" style="font-style:italic;" fill="#b9485f" text-anchor="middle" stroke="#fff" stroke-width="2" stroke-opacity="0.7" paint-order="stroke">5</text>
<text x="986" y="438" font-size="12.5" font-weight="normal" style="font-style:italic;" fill="#b9485f" text-anchor="middle" stroke="#fff" stroke-width="2" stroke-opacity="0.7" paint-order="stroke">2-C</text>
<text x="1130" y="366" font-size="12.5" font-weight="normal" style="font-style:italic;" fill="#b9485f" text-anchor="middle" stroke="#fff" stroke-width="2" stroke-opacity="0.7" paint-order="stroke">12</text>
<text x="1160" y="419" font-size="12.5" font-weight="normal" style="font-style:italic;" fill="#b9485f" text-anchor="middle" stroke="#fff" stroke-width="2" stroke-opacity="0.7" paint-order="stroke">15</text>
<text x="1166" y="436" font-size="12.5" font-weight="normal" style="font-style:italic;" fill="#b9485f" text-anchor="middle" stroke="#fff" stroke-width="2" stroke-opacity="0.7" paint-order="stroke">17</text>
<text x="1181" y="452" font-size="12.5" font-weight="normal" style="font-style:italic;" fill="#b9485f" text-anchor="middle" stroke="#fff" stroke-width="2" stroke-opacity="0.7" paint-order="stroke">8</text>
<text x="1198" y="461" font-size="12.5" font-weight="normal" style="font-style:italic;" fill="#b9485f" text-anchor="middle" stroke="#fff" stroke-width="2" stroke-opacity="0.7" paint-order="stroke">18</text>
<text x="1215" y="472" font-size="12.5" font-weight="normal" style="font-style:italic;" fill="#b9485f" text-anchor="middle" stroke="#fff" stroke-width="2" stroke-opacity="0.7" paint-order="stroke">6</text>
<text x="1243" y="472" font-size="12.5" font-weight="normal" style="font-style:italic;" fill="#b9485f" text-anchor="middle" stroke="#fff" stroke-width="2" stroke-opacity="0.7" paint-order="stroke">20</text>
<text x="1270" y="472" font-size="12.5" font-weight="normal" style="font-style:italic;" fill="#b9485f" text-anchor="middle" stroke="#fff" stroke-width="2" stroke-opacity="0.7" paint-order="stroke">20-A</text>
<text x="1296" y="496" font-size="12.5" font-weight="normal" style="font-style:italic;" fill="#b9485f" text-anchor="middle" stroke="#fff" stroke-width="2" stroke-opacity="0.7" paint-order="stroke">3</text>
<text x="1307" y="516" font-size="12.5" font-weight="normal" style="font-style:italic;" fill="#b9485f" text-anchor="middle" stroke="#fff" stroke-width="2" stroke-opacity="0.7" paint-order="stroke">23-C</text>
<text x="1101" y="451" font-size="12.5" font-weight="normal" style="font-style:italic;" fill="#b9485f" text-anchor="middle" stroke="#fff" stroke-width="2" stroke-opacity="0.7" paint-order="stroke">3</text>
<text x="1192" y="346" font-size="12.5" font-weight="normal" style="font-style:italic;" fill="#b9485f" text-anchor="middle" stroke="#fff" stroke-width="2" stroke-opacity="0.7" paint-order="stroke">4</text>
<text x="1243" y="308" font-size="12.5" font-weight="normal" style="font-style:italic;" fill="#b9485f" text-anchor="middle" stroke="#fff" stroke-width="2" stroke-opacity="0.7" paint-order="stroke">6</text>
<text x="1276" y="276" font-size="12.5" font-weight="normal" style="font-style:italic;" fill="#b9485f" text-anchor="middle" stroke="#fff" stroke-width="2" stroke-opacity="0.7" paint-order="stroke">8</text>
<text x="1323" y="247" font-size="12.5" font-weight="normal" style="font-style:italic;" fill="#b9485f" text-anchor="middle" stroke="#fff" stroke-width="2" stroke-opacity="0.7" paint-order="stroke">9</text>
<text x="1218" y="337" font-size="12.5" font-weight="normal" style="font-style:italic;" fill="#b9485f" text-anchor="middle" stroke="#fff" stroke-width="2" stroke-opacity="0.7" paint-order="stroke">5</text>
<text x="1086" y="246.5" font-size="13.7" fill="#444" stroke="#fff" stroke-width="2" stroke-opacity="0.6" paint-order="stroke" text-anchor="middle">Ruaka</text>
<text x="1089" y="322" font-size="12.5" font-style="italic" fill="#a080b0" text-anchor="middle">Westlands</text>
<text x="1145" y="401" font-size="19" fill="#444" stroke="#fff" stroke-width="2.5" stroke-opacity="0.7" paint-order="stroke" text-anchor="middle">Nairobi</text>
<text x="1134" y="480" font-size="12" font-style="italic" fill="#8f6fc8" text-anchor="middle">Wilson</text>
<text x="1134" y="495" font-size="12" font-style="italic" fill="#8f6fc8" text-anchor="middle">Airport</text>
<text x="1148" y="548" font-size="12" font-style="italic" fill="#b08ac0" text-anchor="middle">Langata</text>
<text x="1316" y="470" font-size="12" font-style="italic" fill="#8f6fc8" text-anchor="middle">Jo</text>
<text x="1316" y="484" font-size="12" font-style="italic" fill="#8f6fc8" text-anchor="middle">In</text>
<text x="1338" y="434" font-size="12" font-style="italic" fill="#a080b0" text-anchor="middle">Em</text>
<path d="M1134,451 L1135.2,455 L1141,458 L1141,459.5 L1135.2,458.3 L1135,462 L1137,463.5 L1137,464.5 L1134,463.8 L1131,464.5 L1131,463.5 L1133,462 L1132.8,458.3 L1127,459.5 L1127,458 L1132.8,455 Z" fill="#8f6fc8"/>
<polygon points="988,225 992.5,233 983.5,233" fill="#c58a50"/>
<circle cx="1125.4" cy="349.3" r="9.6" fill="#fe6b6c" fill-opacity="0.95" stroke="#fff" stroke-width="1.6"/>
<circle cx="1145.6" cy="389.2" r="9.6" fill="#f9b347" fill-opacity="0.95" stroke="#fff" stroke-width="1.6"/>
<circle cx="1095.6" cy="395.3" r="9.6" fill="#0fae6d" fill-opacity="0.95" stroke="#fff" stroke-width="1.6"/>
<circle cx="1224.9" cy="419.6" r="9.6" fill="#fe6b6c" fill-opacity="0.95" stroke="#fff" stroke-width="1.6"/>
<circle cx="1279" cy="336.8" r="9.6" fill="#fe6b6c" fill-opacity="0.95" stroke="#fff" stroke-width="1.6"/>
<circle cx="1305.6" cy="319.1" r="9.6" fill="#0fae6d" fill-opacity="0.95" stroke="#fff" stroke-width="1.6"/>
<circle cx="1317.6" cy="359.2" r="9.6" fill="#0fae6d" fill-opacity="0.95" stroke="#fff" stroke-width="1.6"/>
<rect x="1050" y="549" width="293" height="21" fill="#fff" fill-opacity="0.8"/>
<rect x="1056" y="555" width="15" height="5" fill="#4c7be0"/><rect x="1056" y="560" width="15" height="5" fill="#f5cf1d"/>
<text x="1075.5" y="565" font-size="15" fill="#0078a8">Leaflet</text>
<text x="1120.6" y="565" font-size="15" fill="#333" xml:space="preserve"> | © OpenStreetMap contributors</text>
</svg>
<div id="fab"></div>
<svg width="1357" height="872" style="position:absolute;left:0;top:0">
<ellipse cx="1295" cy="807.5" rx="12.6" ry="10.6" fill="#fff"/>
<path d="M1301,815 L1307.8,818.6 L1304.5,812 Z" fill="#fff"/>
<path d="M1275,805 L1268.8,809 L1276.5,808.5 Z" fill="#fff"/>
<ellipse cx="1281.5" cy="798.3" rx="12.3" ry="10.6" fill="#fff" stroke="#066b5c" stroke-width="1.3"/>
<path d="M1274.5,804.5 L1269,808.6 L1277,807.6 Z" fill="#fff"/>
</svg>
<div style="position:absolute;left:491px;top:724px;font-size:15px;line-height:15px;font-weight:bold;color:#111;letter-spacing:1.0px;">Hub</div>
<div style="position:absolute;left:622.5px;top:724px;font-size:15px;line-height:15px;font-weight:bold;color:#111;letter-spacing:0.4px;">kg</div>
<div style="position:absolute;left:721px;top:724px;font-size:15px;line-height:15px;font-weight:bold;color:#111;letter-spacing:0.3px;">credits</div>
<div style="position:absolute;left:480px;top:751px;width:410px;height:1px;background:#edf2ef;"></div>

</body></html>
